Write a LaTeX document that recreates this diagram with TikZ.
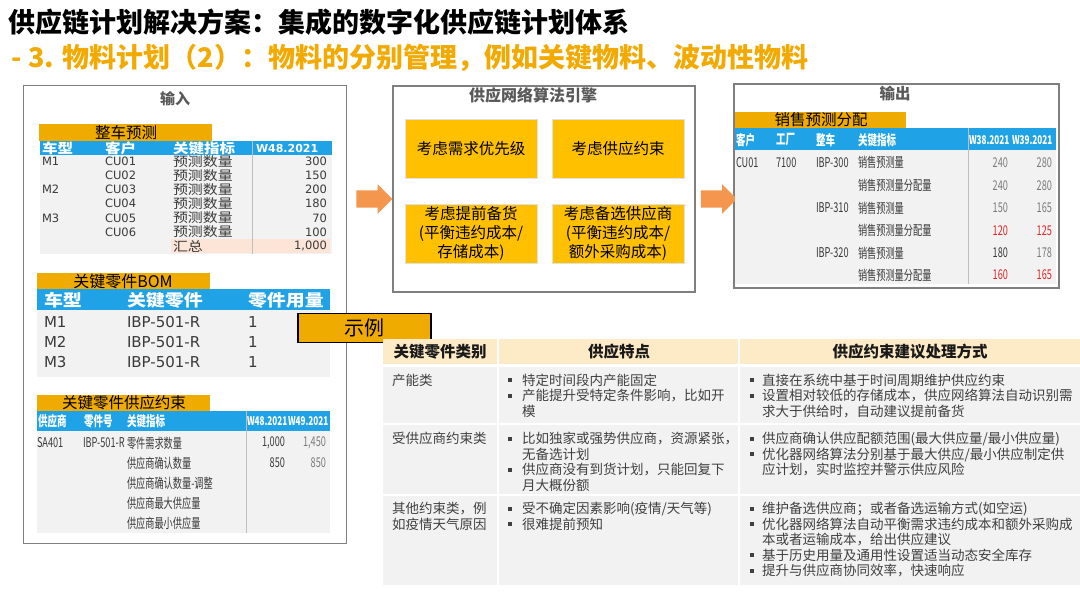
\documentclass[tikz,border=0pt]{standalone}
\usepackage{fontspec}
\usetikzlibrary{shapes.arrows}
\setmainfont{Noto Sans CJK SC}
\newfontfamily\dvf{DejaVu Sans}
\newfontfamily\widef{Noto Sans CJK SC}[FakeStretch=1.15]
\newfontfamily\condf{Noto Sans CJK SC}[FakeStretch=0.68]
\newcommand\fsz[2]{\fontsize{#1pt}{#2pt}\selectfont}
\definecolor{ttlor}{HTML}{F2A900}
\definecolor{baror}{HTML}{F0AB00}
\definecolor{yel}{HTML}{FFC000}
\definecolor{hblue}{HTML}{1FA2E6}
\definecolor{lgray}{HTML}{F2F2F2}
\definecolor{bgray}{HTML}{7F7F7F}
\definecolor{dtxt}{HTML}{3A3A3A}
\definecolor{ltxt}{HTML}{7A7A7A}
\definecolor{btxt}{HTML}{404040}
\definecolor{ttxt}{HTML}{595959}
\definecolor{arr}{HTML}{F4964E}
\definecolor{peach}{HTML}{FDEAC6}
\definecolor{sumbg}{HTML}{FCE4D6}
\definecolor{redv}{HTML}{E02424}
\tikzset{
  frame/.style={draw=bgray, line width=1.6pt, fill=white, inner sep=0pt, anchor=north west},
  tl/.style={inner sep=0pt, outer sep=0pt, anchor=west},
  tr/.style={inner sep=0pt, outer sep=0pt, anchor=east},
  tc/.style={inner sep=0pt, outer sep=0pt, anchor=center},
  blk/.style={single arrow, fill=arr, single arrow head extend=6pt, minimum height=36pt, inner xsep=0pt, inner ysep=8.5pt, minimum width=0pt},
  ybox/.style={fill=yel, draw=black!12, line width=1pt, minimum width=132pt, minimum height=59pt, align=center, font=\fsz{15.5}{19}, inner sep=0pt},
  bt/.style={inner sep=0pt, outer sep=0pt, anchor=base west, align=left, text=btxt, font=\fsz{13.5}{15.6}},
  bl/.style={rectangle, fill=btxt, minimum size=4pt, inner sep=0pt},
  h1/.style={tl, text=white, font=\widef\bfseries\fsz{13.5}{15}},
  d1/.style={tl, text=dtxt, font=\dvf\fsz{11.5}{13}},
  c1/.style={tl, text=dtxt, font=\widef\fsz{13}{14}},
  v1/.style={tr, text=dtxt, font=\dvf\fsz{11.5}{13}},
  h2/.style={tl, text=white, font=\widef\bfseries\fsz{16.5}{18}},
  d2/.style={tl, text=dtxt, font=\dvf\fsz{15}{17}},
  h3/.style={tl, text=white, font=\condf\bfseries\fsz{14}{16}},
  w3/.style={tl, text=white, font=\condf\bfseries\fsz{12}{14}},
  d3/.style={tl, text=dtxt, font=\condf\fsz{13.5}{15}},
  v3/.style={tr, text=dtxt, font=\condf\fsz{13.5}{15}},
  bartext/.style={tc, text=black, font=\fsz{15.5}{17}},
  hd/.style={tc, text=black!90, font=\bfseries\fsz{15.5}{18}}
}
\begin{document}
\begin{tikzpicture}[x=1pt,y=-1pt]
\useasboundingbox (0,0) rectangle (1080,608);
\fill[white] (0,0) rectangle (1080,608);

% titles
\node[tl, font=\bfseries\fsz{27}{31}] (title) at (9,22) {供应链计划解决方案：集成的数字化供应链计划体系};
\node[tl, text=ttlor, font=\bfseries\fsz{27}{31}] (subtitle) at (12,58) {- 3. 物料计划（2）：物料的分别管理，例如关键物料、波动性物料};

% frames
\node[frame, minimum width=323pt, minimum height=458pt] (inp) at (22.5,84.5) {};
\node[frame, minimum width=302pt, minimum height=206pt] (eng) at (392,85) {};
\node[frame, minimum width=325pt, minimum height=204pt] (outp) at (733,83) {};

% block arrows
\node[blk] (ar1) at (370,199) {};
\node[blk] (ar2) at (714.5,199) {};

% ===== input =====
\node[tc, text=ttxt, font=\bfseries\fsz{15}{18}] (inptitle) at (175,99) {输入};

% table 1
\fill[baror] (39,124) rectangle (212,141);
\node[bartext] (t1bar) at (126,132.5) {整车预测};
\fill[hblue] (40,141) rectangle (332,154.5);
\fill[lgray] (40,154.5) rectangle (332,253.5);
\fill[sumbg] (171,239) rectangle (330,253);
\draw[black!25, line width=0.6pt] (252,141) -- (252,253.5);
\node[h1] (t1h1) at (42,148) {车型};
\node[h1] (t1h2) at (105,148) {客户};
\node[h1] (t1h3) at (173,148) {关键指标};
\node[tl, text=white, font=\dvf\bfseries\fsz{11}{13}] (t1h4) at (256,148) {W48.2021};
\node[d1] (t1m1) at (42,161.5) {M1};
\node[d1] (t1m2) at (42,189.7) {M2};
\node[d1] (t1m3) at (42,217.9) {M3};
\foreach \cu/\val [count=\i] in {CU01/300,CU02/150,CU03/200,CU04/180,CU05/70,CU06/100}{
  \node[d1] (t1cu\i) at (105,{161.5+(\i-1)*14.1}) {\cu};
  \node[c1] (t1k\i) at (173,{161.5+(\i-1)*14.1}) {预测数量};
  \node[v1] (t1v\i) at (327,{161.5+(\i-1)*14.1}) {\val};
}
\node[c1] (t1sum) at (173,246) {汇总};
\node[v1] (t1sumv) at (327,246) {1,000};

% table 2 BOM
\fill[baror] (37,273) rectangle (210,289);
\node[bartext, font=\fsz{16}{18}] (t2bar) at (123,281) {关键零件BOM};
\fill[hblue] (37,289) rectangle (330,310);
\fill[lgray] (37,310) rectangle (330,377);
\node[h2] (t2h1) at (44,300) {车型};
\node[h2] (t2h2) at (127,300) {关键零件};
\node[h2] (t2h3) at (248,300) {零件用量};
\foreach \m [count=\i] in {M1,M2,M3}{
  \node[d2] (t2m\i) at (44,{322+(\i-1)*20}) {\m};
  \node[d2] (t2p\i) at (127,{322+(\i-1)*20}) {IBP-501-R};
  \node[d2] (t2q\i) at (248,{322+(\i-1)*20}) {1};
}

% table 3 supply constraints
\fill[baror] (37,395) rectangle (210,411);
\node[bartext] (t3bar) at (124,403) {关键零件供应约束};
\fill[hblue] (37,411) rectangle (330,431);
\fill[lgray] (37,431) rectangle (330,533);
\draw[black!25, line width=0.6pt] (246,411) -- (246,533);
\node[h3] (t3h1) at (38,421.5) {供应商};
\node[h3] (t3h2) at (84,421.5) {零件号};
\node[h3] (t3h3) at (127,421.5) {关键指标};
\node[w3] (t3h4) at (247,421.5) {W48.2021};
\node[w3] (t3h5) at (288,421.5) {W49.2021};
\node[d3] (t3s) at (37,443) {SA401};
\node[d3] (t3p) at (83,443) {IBP-501-R};
\node[d3] (t3k1) at (127,443) {零件需求数量};
\node[d3] (t3k2) at (127,463) {供应商确认数量};
\node[d3] (t3k3) at (127,483) {供应商确认数量-调整};
\node[d3] (t3k4) at (127,503) {供应商最大供应量};
\node[d3] (t3k5) at (127,523) {供应商最小供应量};
\node[v3] (t3v1) at (285,443) {1,000};
\node[v3, text=ltxt] (t3w1) at (326,443) {1,450};
\node[v3] (t3v2) at (285,463) {850};
\node[v3, text=ltxt] (t3w2) at (326,463) {850};

% example tag
\node[draw=black, line width=1.8pt, fill=baror, minimum width=133pt, minimum height=29pt, inner sep=0pt, font=\fsz{20}{24}] (ex) at (364.5,328) {示例};

% ===== engine =====
\node[tc, text=ttxt, font=\bfseries\fsz{16}{18}] (engtitle) at (533,95.5) {供应网络算法引擎};
\node[ybox] (yb1) at (471,148.5) {考虑需求优先级};
\node[ybox] (yb2) at (618,148.5) {考虑供应约束};
\node[ybox] (yb3) at (471,233.5) {考虑提前备货\\(平衡违约成本/\\存储成本)};
\node[ybox] (yb4) at (618,233.5) {考虑备选供应商\\(平衡违约成本/\\额外采购成本)};

% ===== output =====
\node[tc, text=ttxt, font=\bfseries\fsz{15.5}{18}] (outtitle) at (895,94) {输出};
\fill[baror] (735,111.5) rectangle (906,127.5);
\node[bartext] (t4bar) at (821,119.5) {销售预测分配};
\fill[hblue] (735,127.5) rectangle (1056,150);
\fill[lgray] (735,150) rectangle (1056,284);
\draw[black!25, line width=0.6pt] (968,127.5) -- (968,284);
\node[h3] (t4h1) at (736,140) {客户};
\node[h3] (t4h2) at (776,140) {工厂};
\node[h3] (t4h3) at (816,140) {整车};
\node[h3] (t4h4) at (858,140) {关键指标};
\node[w3] (t4h5) at (969,140) {W38.2021};
\node[w3] (t4h6) at (1012,140) {W39.2021};
\node[d3] (t4c) at (736,162.5) {CU01};
\node[d3] (t4f) at (776,162.5) {7100};
\node[d3] (t4m1) at (816,162.5) {IBP-300};
\node[d3] (t4m2) at (816,208) {IBP-310};
\node[d3] (t4m3) at (816,253) {IBP-320};
\node[d3] (t4k1) at (858,162.5) {销售预测量};
\node[d3] (t4k2) at (858,185.5) {销售预测量分配量};
\node[d3] (t4k3) at (858,208) {销售预测量};
\node[d3] (t4k4) at (858,230.5) {销售预测量分配量};
\node[d3] (t4k5) at (858,253) {销售预测量};
\node[d3] (t4k6) at (858,275) {销售预测量分配量};
\node[v3, text=ltxt] (t4a1) at (1008,162.5) {240};
\node[v3, text=ltxt] (t4b1) at (1052,162.5) {280};
\node[v3, text=ltxt] (t4a2) at (1008,185.5) {240};
\node[v3, text=ltxt] (t4b2) at (1052,185.5) {280};
\node[v3, text=ltxt] (t4a3) at (1008,208) {150};
\node[v3, text=ltxt] (t4b3) at (1052,208) {165};
\node[v3, text=redv] (t4a4) at (1008,230.5) {120};
\node[v3, text=redv] (t4b4) at (1052,230.5) {125};
\node[v3] (t4a5) at (1008,253) {180};
\node[v3, text=ltxt] (t4b5) at (1052,253) {178};
\node[v3, text=redv] (t4a6) at (1008,275) {160};
\node[v3, text=redv] (t4b6) at (1052,275) {165};

% ===== bottom table =====
\fill[peach] (383,339) rectangle (497,364);
\fill[peach] (499,339) rectangle (738,364);
\fill[peach] (740,339) rectangle (1080,364);
\foreach \ya/\yb in {366.5/422.5, 424.5/494, 496/585}{
  \fill[lgray] (383,\ya) rectangle (497,\yb);
  \fill[lgray] (499,\ya) rectangle (738,\yb);
  \fill[lgray] (740,\ya) rectangle (1080,\yb);
}
\node[hd] (hd1) at (440,351.5) {关键零件类别};
\node[hd] (hd2) at (619,351.5) {供应特点};
\node[hd] (hd3) at (910,351.5) {供应约束建议处理方式};

% (multi-line nodes: base anchor = baseline of last line)
% row 1
\node[bt] (r1c1) at (392,385) {产能类};
\node[bl] (r1b1) at (510,380) {};
\node[bt] (r1t1) at (522,385) {特定时间段内产能固定};
\node[bl] (r1b2) at (510,395.6) {};
\node[bt] (r1t2) at (522,416.2) {产能提升受特定条件影响，比如开\\模};
\node[bl] (r1b3) at (752,380) {};
\node[bt] (r1t3) at (762,385) {直接在系统中基于时间周期维护供应约束};
\node[bl] (r1b4) at (752,395.6) {};
\node[bt] (r1t4) at (762,416.2) {设置相对较低的存储成本，供应网络算法自动识别需\\求大于供给时，自动建议提前备货};

% row 2
\node[bt] (r2c1) at (392,443.5) {受供应商约束类};
\node[bl] (r2b1) at (510,438.5) {};
\node[bt] (r2t1) at (522,459.1) {比如独家或强势供应商，资源紧张，\\无备选计划};
\node[bl] (r2b2) at (510,469.7) {};
\node[bt] (r2t2) at (522,490.3) {供应商没有到货计划，只能回复下\\月大概份额};
\node[bl] (r2b3) at (752,438.5) {};
\node[bt] (r2t3) at (762,443.5) {供应商确认供应配额范围(最大供应量/最小供应量)};
\node[bl] (r2b4) at (752,454.1) {};
\node[bt] (r2t4) at (762,474.7) {优化器网络算法分别基于最大供应/最小供应制定供\\应计划，实时监控并警示供应风险};

% row 3
\node[bt] (r3c1) at (392,529.1) {其他约束类，例\\如疫情天气原因};
\node[bl] (r3b1) at (510,508.5) {};
\node[bt] (r3t1) at (522,513.5) {受不确定因素影响(疫情/天气等)};
\node[bl] (r3b2) at (510,524.1) {};
\node[bt] (r3t2) at (522,529.1) {很难提前预知};
\node[bl] (r3b3) at (752,508.5) {};
\node[bt] (r3t3) at (762,513.5) {维护备选供应商；或者备选运输方式(如空运)};
\node[bl] (r3b4) at (752,524.1) {};
\node[bt] (r3t4) at (762,544.7) {优化器网络算法自动平衡需求违约成本和额外采购成\\本或者运输成本，给出供应建议};
\node[bl] (r3b5) at (752,555.3) {};
\node[bt] (r3t5) at (762,560.3) {基于历史用量及通用性设置适当动态安全库存};
\node[bl] (r3b6) at (752,570.9) {};
\node[bt] (r3t6) at (762,575.9) {提升与供应商协同效率，快速响应};
\end{tikzpicture}
\end{document}
